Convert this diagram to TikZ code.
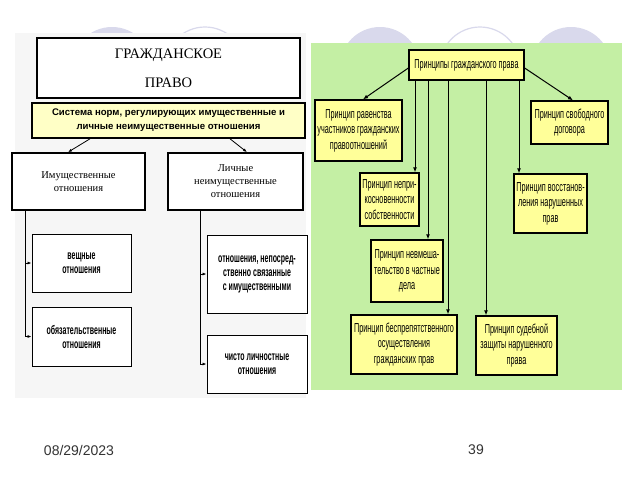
\documentclass[tikz,border=0pt]{standalone}
\usepackage{fontspec}
\setmainfont{Liberation Serif}
\newfontfamily\arialfont{Liberation Sans}
\newfontfamily\narrowfont[FakeStretch=0.56]{Liberation Sans}
\usetikzlibrary{arrows.meta}

\definecolor{panelgreen}{HTML}{C4EFA4}
\definecolor{prinyellow}{HTML}{FFFF99}
\definecolor{sysyellow}{HTML}{FFFFC6}
\definecolor{bubble}{HTML}{D9D9EC}
\definecolor{panelgray}{HTML}{F6F6F6}

\tikzset{
  lawbox/.style={draw, line width=2.2pt, fill=white, align=center, inner sep=0pt,
    font=\fontsize{14.5}{29}\selectfont},
  sysbox/.style={draw, line width=1.6pt, fill=sysyellow, align=center, inner sep=0pt,
    font=\arialfont\bfseries\fontsize{9.6}{14}\selectfont},
  kindbox/.style={draw, line width=1.6pt, fill=white, align=center, inner sep=0pt,
    font=\fontsize{10.5}{13}\selectfont},
  subbox/.style={draw, line width=0.9pt, fill=white, align=center, inner sep=0pt,
    font=\narrowfont\bfseries\fontsize{12.5}{14}\selectfont},
  prinbox/.style={draw, line width=1.3pt, fill=prinyellow, align=center, inner sep=0pt,
    font=\narrowfont\fontsize{13}{15.5}\selectfont},
  arr/.style={-{Latex[length=4pt,width=3pt]}, line width=0.8pt},
  garr/.style={-{Latex[length=5pt,width=4pt]}, line width=1pt},
}

\begin{document}
\begin{tikzpicture}[x=1pt, y=-1pt]
  \useasboundingbox (0,0) rectangle (640,480);
  \fill[white] (0,0) rectangle (640,480);

  % slide bubbles
  \fill[bubble] (112,67) circle (40);
  \filldraw[fill=white, draw=bubble, line width=1.2pt] (205,67) circle (40);
  \fill[bubble] (380,67) circle (40);
  \filldraw[fill=white, draw=bubble, line width=1.2pt] (480,67) circle (40);
  \fill[bubble] (571,67) circle (40);

  % panels
  \fill[panelgray] (15,33) rectangle (306,398);
  \fill[panelgreen] (311,43) rectangle (622,390);

  % left scheme
  \node[lawbox, minimum width=263pt, minimum height=60pt] (law) at (168.5,68)
    {ГРАЖДАНСКОЕ\\ ПРАВО};
  \node[sysbox, minimum width=273pt, minimum height=35pt] (sys) at (168.5,120.5)
    {Система норм, регулирующих имущественные и\\ личные неимущественные отношения};
  \node[kindbox, minimum width=133pt, minimum height=57pt] (prop) at (78.5,181.5)
    {Имущественные\\ отношения};
  \node[kindbox, minimum width=135pt, minimum height=57pt] (pers) at (235.5,181.5)
    {Личные\\ неимущественные\\ отношения};
  \node[subbox, minimum width=99pt, minimum height=58pt] (thing) at (81.5,263)
    {вещные\\ отношения};
  \node[subbox, minimum width=99pt, minimum height=59pt] (oblig) at (81.5,336.5)
    {обязательственные\\ отношения};
  \node[subbox, minimum width=100pt, minimum height=78pt] (linked) at (257,274)
    {отношения, непосред-\\ ственно связанные\\ с имущественными};
  \node[subbox, minimum width=100pt, minimum height=58pt] (pure) at (257,364)
    {чисто личностные\\ отношения};

  \draw[arr] ([xshift=-78.5pt]sys.south) -- ([xshift=-10.5pt]prop.north);
  \draw[arr] ([xshift=61.5pt]sys.south) -- ([xshift=11.5pt]pers.north);

  \coordinate (lx) at (25,0);
  \coordinate (rx) at (200,0);
  \draw[line width=0.8pt] (prop.south -| lx) -- (oblig.west -| lx);
  \draw[arr] (thing.west -| lx) -- (thing.west);
  \draw[arr] (oblig.west -| lx) -- (oblig.west);
  \draw[line width=0.8pt] (pers.south -| rx) -- (pure.west -| rx);
  \draw[arr] (linked.west -| rx) -- (linked.west);
  \draw[arr] (pure.west -| rx) -- (pure.west);

  % right scheme
  \node[prinbox, minimum width=115pt, minimum height=30pt] (head) at (466.5,65)
    {Принципы гражданского права};
  \node[prinbox, minimum width=87pt, minimum height=61pt] (equal) at (358.5,130.5)
    {Принцип равенства\\ участников гражданских\\ правоотношений};
  \node[prinbox, minimum width=77pt, minimum height=43pt] (free) at (569.5,122.5)
    {Принцип свободного\\ договора};
  \node[prinbox, minimum width=59pt, minimum height=53pt] (invio) at (389.5,199.5)
    {Принцип непри-\\ косновенности\\ собственности};
  \node[prinbox, minimum width=73pt, minimum height=59pt] (restore) at (550.5,203.5)
    {Принцип восстанов-\\ ления нарушенных\\ прав};
  \node[prinbox, minimum width=72pt, minimum height=62pt] (nonint) at (407,271)
    {Принцип невмеша-\\ тельство в частные\\ дела};
  \node[prinbox, minimum width=106pt, minimum height=59pt] (unimp) at (404,344.5)
    {Принцип беспрепятственного\\ осуществления\\ гражданских прав};
  \node[prinbox, minimum width=81pt, minimum height=59pt] (court) at (516.5,345.5)
    {Принцип судебной\\ защиты нарушенного\\ права};

  \draw[garr] ([yshift=-3pt]head.west) -- ([xshift=4.5pt]equal.north);
  \draw[garr] ([yshift=-3pt]head.east) -- ([xshift=3.5pt]free.north);

  \coordinate (v1) at (415,0);
  \coordinate (v2) at (428,0);
  \coordinate (v3) at (448,0);
  \coordinate (v4) at (486,0);
  \coordinate (v5) at (519,0);
  \draw[garr] (head.south -| v1) -- (invio.north -| v1);
  \draw[garr] (head.south -| v2) -- (nonint.north -| v2);
  \draw[garr] (head.south -| v3) -- (unimp.north -| v3);
  \draw[garr] (head.south -| v4) -- (court.north -| v4);
  \draw[garr] (head.south -| v5) -- (restore.north -| v5);

  % footer
  \node[font=\arialfont\fontsize{14}{16}\selectfont, text=black!80] (date) at (79,450) {08/29/2023};
  \node[font=\arialfont\fontsize{14}{16}\selectfont, text=black!80] (page) at (476,450) {39};
\end{tikzpicture}
\end{document}
